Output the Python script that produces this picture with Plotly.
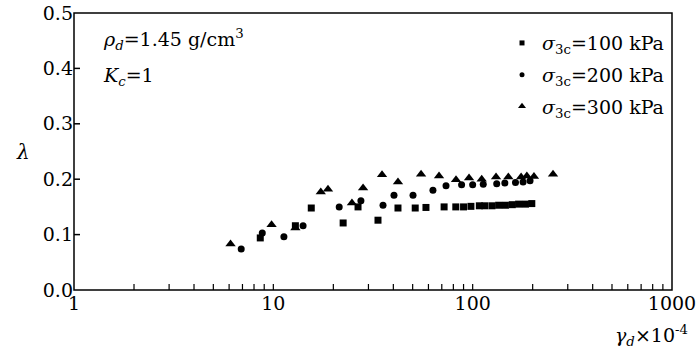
import plotly.graph_objects as go

# sigma_3c = 100 kPa (squares)
x100 = [8.6, 12.9, 15.5, 22.4, 26.6, 33.5, 42.2, 51.5, 58.3, 71.9, 82.3, 90, 98, 108, 115, 125, 135, 146, 158, 170, 184, 198]
y100 = [0.094, 0.116, 0.148, 0.121, 0.150, 0.126, 0.148, 0.148, 0.149, 0.150, 0.150, 0.150, 0.151, 0.152, 0.152, 0.152, 0.153, 0.153, 0.154, 0.155, 0.155, 0.156]
# sigma_3c = 200 kPa (circles)
x200 = [6.9, 8.8, 11.3, 14.1, 21.4, 27.5, 35.5, 40.3, 50.2, 63.2, 73.5, 88, 100, 113, 132, 145, 164, 179, 194]
y200 = [0.074, 0.103, 0.096, 0.116, 0.150, 0.161, 0.153, 0.171, 0.171, 0.180, 0.188, 0.190, 0.190, 0.191, 0.192, 0.193, 0.194, 0.195, 0.197]
# sigma_3c = 300 kPa (triangles)
x300 = [6.1, 9.8, 12.9, 17.3, 18.8, 24.8, 28.2, 35.1, 42.2, 55.1, 67.8, 82.5, 95.9, 111, 131, 151, 175, 187, 203, 253]
y300 = [0.083, 0.118, 0.112, 0.177, 0.182, 0.157, 0.184, 0.208, 0.195, 0.209, 0.206, 0.199, 0.202, 0.200, 0.204, 0.204, 0.204, 0.206, 0.205, 0.209]

names = ["<i>σ</i><sub>3c</sub>=100 kPa", "<i>σ</i><sub>3c</sub>=200 kPa", "<i>σ</i><sub>3c</sub>=300 kPa"]
symbols = ["square", "circle", "triangle-up"]
sizes = [7, 7, 9]
legend_sizes = [5, 5, 7]
major_x = [1, 10, 100, 1000]
yticks = [0.0, 0.1, 0.2, 0.3, 0.4, 0.5]

# log-axis ticks: every integer multiple within each decade; labels only at decades
xtickvals = [m * 10 ** d for d in range(3) for m in range(1, 10)] + [1000]
xticktext = [str(v) if v in major_x else "" for v in xtickvals]

FONT = "DejaVu Serif, Liberation Serif, serif"
FS = 19
W, H = 700, 357
ML, MR, MT, MB = 74, 28, 13, 67
TICKLEN = 6  # px

fig = go.Figure()
for xs, ys, sym, sz in zip([x100, x200, x300], [y100, y200, y300], symbols, sizes):
    fig.add_trace(go.Scatter(x=xs, y=ys, mode="markers", showlegend=False,
                             marker=dict(symbol=sym, size=sz, color="black")))
for i, (nm, sym, sz) in enumerate(zip(names, symbols, legend_sizes)):
    fig.add_trace(go.Scatter(x=[None], y=[None], mode="markers", name=nm, legendgroup=f"g{i}",
                             marker=dict(symbol=sym, size=sz, color="black")))

axis_common = dict(showline=False, showgrid=False, zeroline=False, ticks="",
                   tickfont=dict(family=FONT, size=FS, color="black"))
fig.update_xaxes(type="log", range=[0, 3], tickmode="array", tickvals=xtickvals,
                 ticktext=xticktext, **axis_common)
fig.update_yaxes(range=[0, 0.5], tickmode="array", tickvals=yticks,
                 ticktext=[f"{v:.1f}" for v in yticks], **axis_common)

# frame
fig.add_shape(type="rect", xref="paper", yref="paper", x0=0, y0=0, x1=1, y1=1,
              line=dict(color="black", width=1.5), fillcolor="rgba(0,0,0,0)", layer="above")

# inside tick marks, placed on the axes' own scales
plot_w = W - ML - MR
plot_h = H - MT - MB
for v in xtickvals[1:-1]:
    fig.add_shape(type="line", xref="x", yref="paper", x0=v, x1=v,
                  y0=0, y1=TICKLEN / plot_h, line=dict(color="black", width=1.2), layer="above")
for v in yticks[1:-1]:
    fig.add_shape(type="line", xref="paper", yref="y", x0=0, x1=TICKLEN / plot_w,
                  y0=v, y1=v, line=dict(color="black", width=1.5), layer="above")

fig.add_annotation(x=0.045, y=0.905, xref="paper", yref="paper", xanchor="left", yanchor="middle",
                   text="<i>ρ</i><sub><i>d</i></sub>=1.45 g/cm<sup>3</sup>", showarrow=False,
                   font=dict(family=FONT, size=FS, color="black"))
fig.add_annotation(x=0.045, y=0.77, xref="paper", yref="paper", xanchor="left", yanchor="middle",
                   text="<i>K</i><sub><i>c</i></sub>=1", showarrow=False,
                   font=dict(family=FONT, size=FS, color="black"))
fig.add_annotation(x=-0.085, y=0.5, xref="paper", yref="paper", xanchor="center", yanchor="middle",
                   text="<i>λ</i>", showarrow=False, font=dict(family=FONT, size=FS + 1, color="black"))
fig.add_annotation(x=1.03, y=-0.11, xref="paper", yref="paper", xanchor="right", yanchor="top",
                   text="<i>γ</i><sub><i>d</i></sub>×10<sup>-4</sup>", showarrow=False,
                   font=dict(family=FONT, size=FS, color="black"))

fig.update_layout(width=W, height=H, margin=dict(l=ML, r=MR, t=MT, b=MB, autoexpand=False),
                  plot_bgcolor="white", paper_bgcolor="white",
                  font=dict(family=FONT, size=FS, color="black"),
                  legend=dict(x=0.995, y=0.96, xanchor="right", yanchor="top",
                              bgcolor="rgba(0,0,0,0)", tracegroupgap=4,
                              font=dict(family=FONT, size=FS, color="black"),
                              itemwidth=30))

fig.write_html("out.html", config={"displayModeBar": False},
               post_script="document.body.style.margin='0';document.body.style.padding='0';")
